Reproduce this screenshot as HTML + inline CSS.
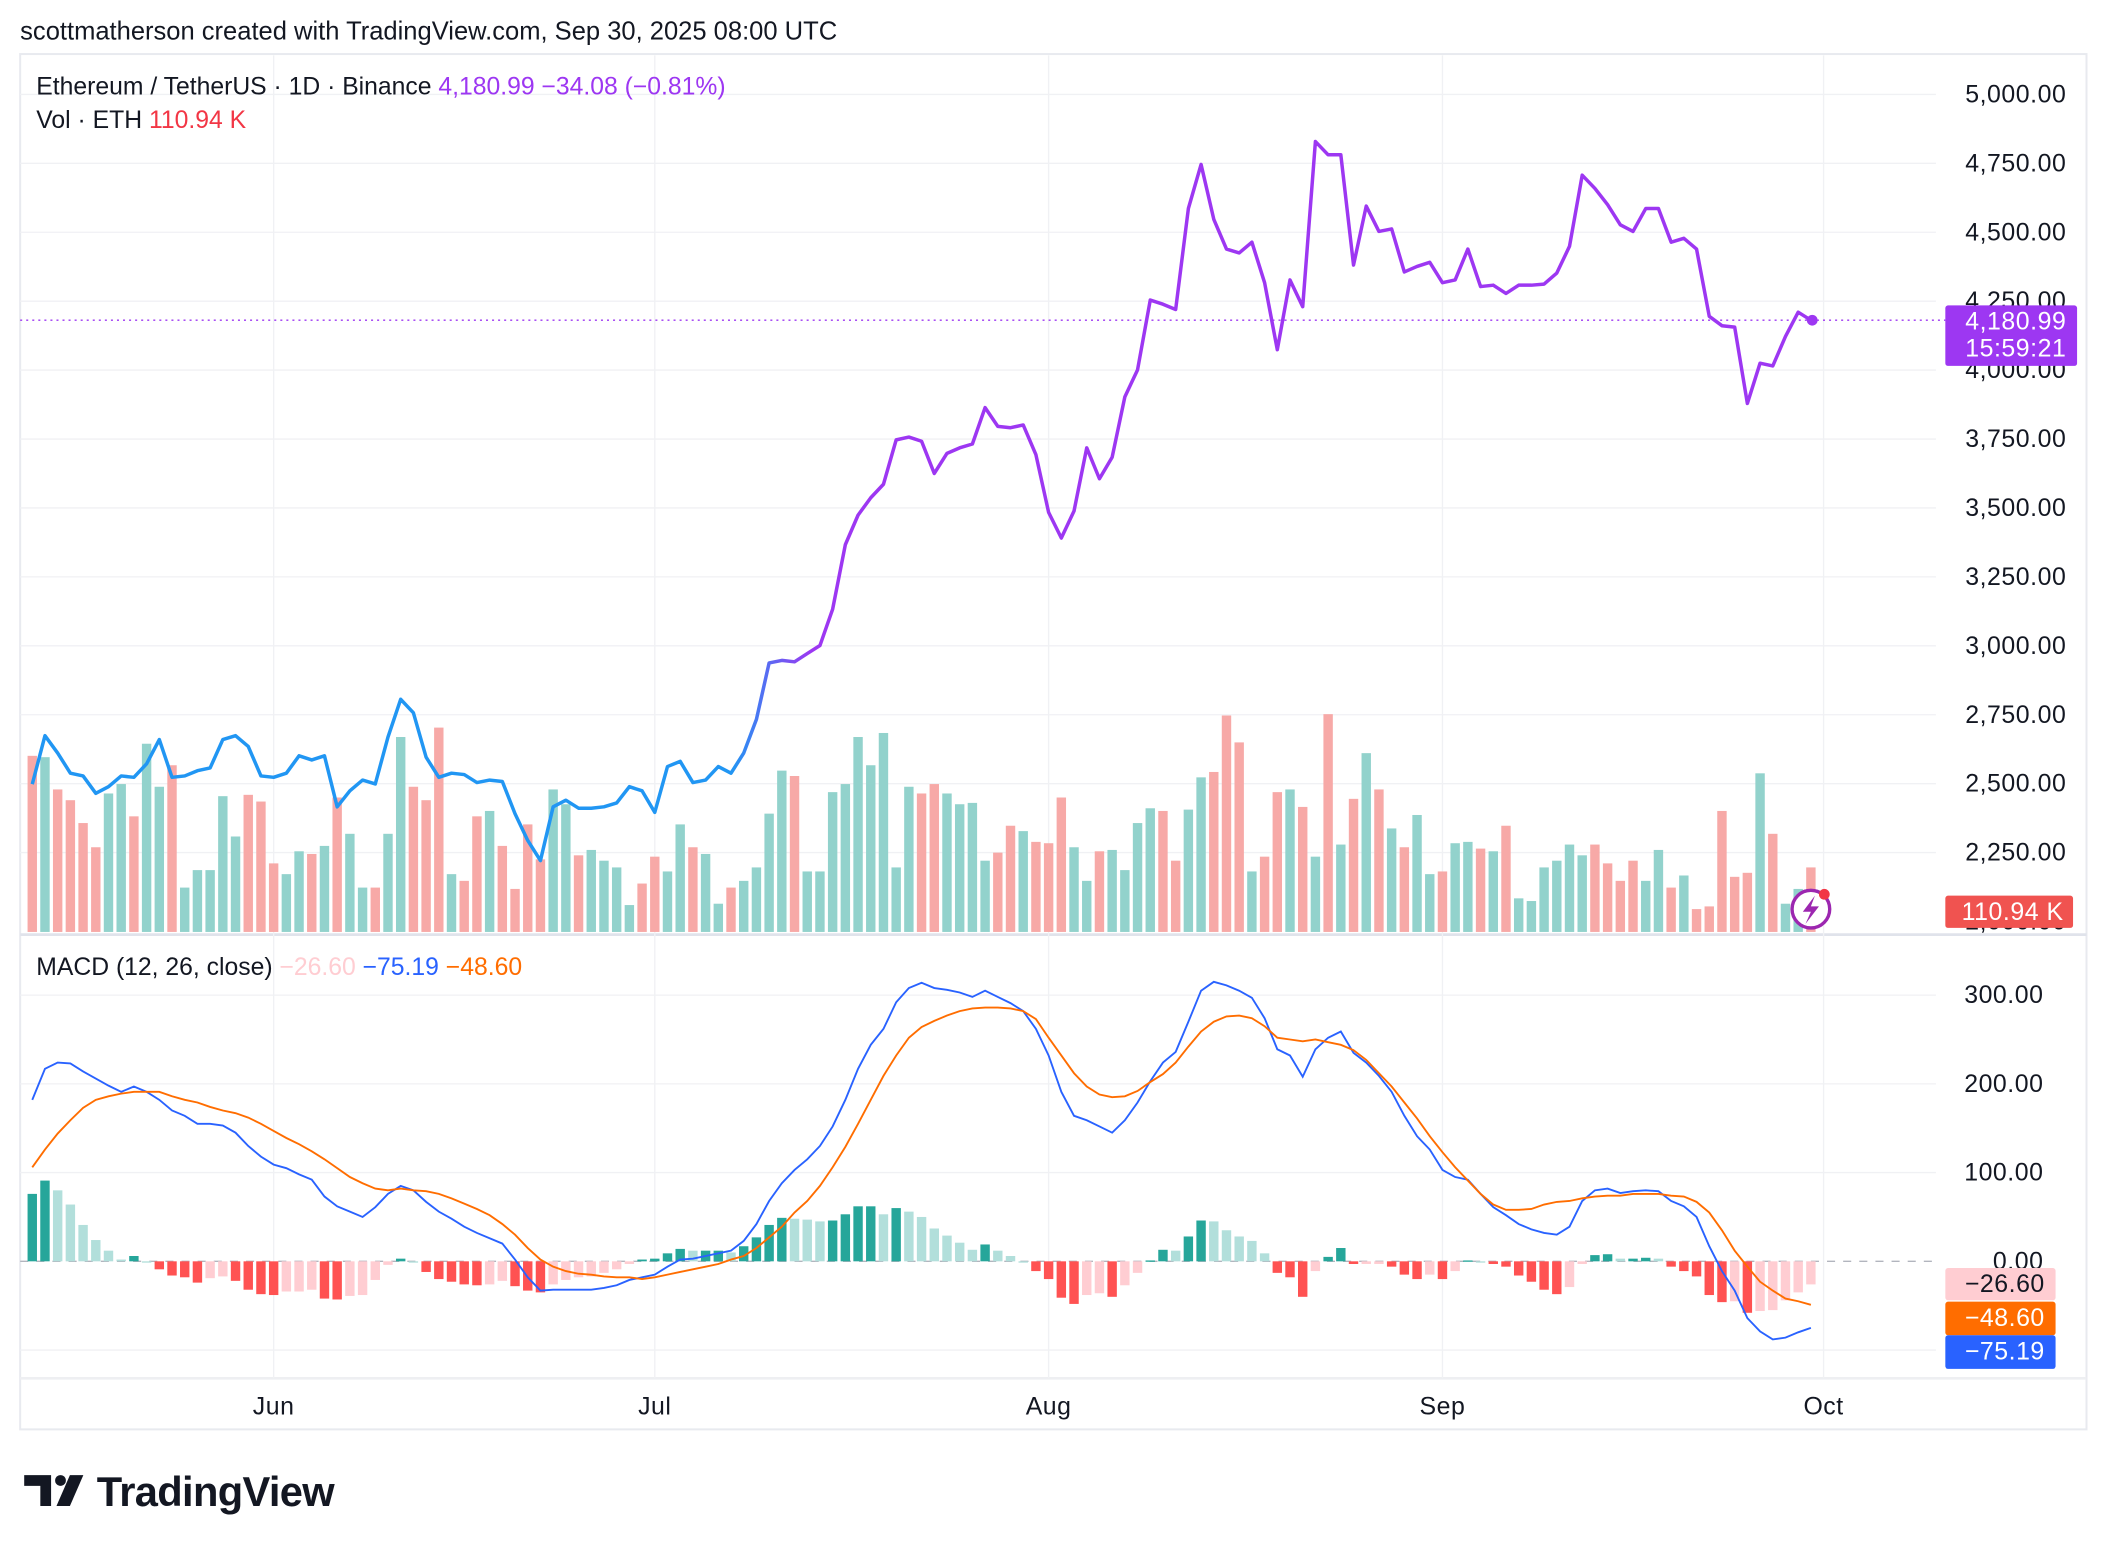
<!DOCTYPE html>
<html><head><meta charset="utf-8">
<style>
html,body{margin:0;padding:0;background:#fff;}
svg{display:block;font-family:"Liberation Sans",Arial,sans-serif;}
</style></head>
<body>
<svg id="chart" width="2108" height="1552" viewBox="0 0 1568 1154" xmlns="http://www.w3.org/2000/svg">
<defs>
<linearGradient id="lineGrad" gradientUnits="userSpaceOnUse" x1="544" y1="0" x2="604" y2="0">
<stop offset="0" stop-color="#2196f3"/><stop offset="1" stop-color="#9d37f2"/>
</linearGradient>
</defs>
<text x="15" y="29" font-size="19" fill="#131722">scottmatherson created with TradingView.com, Sep 30, 2025 08:00 UTC</text>
<rect x="15" y="40" width="1537" height="1023" fill="none" stroke="#e8eaef" stroke-width="1.5"/>
<line x1="15" y1="695" x2="1552" y2="695" stroke="#e0e3eb" stroke-width="2"/>
<line x1="15" y1="1025" x2="1552" y2="1025" stroke="#eeeff2" stroke-width="2"/>
<g id="grid"></g>
<g id="volume"></g>
<g id="price"></g>
<g id="macd"></g>
<g id="axes"></g>
<text x="27" y="70" font-size="18.4" fill="#131722">Ethereum / TetherUS · 1D · Binance <tspan fill="#9d37f2">4,180.99  −34.08 (−0.81%)</tspan></text>
<text x="27" y="95" font-size="18.4" fill="#131722">Vol · ETH <tspan fill="#f23645">110.94 K</tspan></text>
<text x="27" y="725" font-size="18.4" fill="#131722">MACD (12, 26, close) <tspan fill="#ffcdd2">−26.60</tspan> <tspan fill="#2962ff">−75.19</tspan> <tspan fill="#ff6d00">−48.60</tspan></text>
<g>
<circle cx="1347" cy="676" r="14" fill="#fff" stroke="#9c27b0" stroke-width="2.5"/>
<path d="M1350 666 L1341 678 L1347 678 L1343 687 L1353 674 L1347 674 Z" fill="#9c27b0"/>
<circle cx="1357" cy="665" r="4" fill="#f23645"/>
</g>
<g>
<path d="M18 1097 H38 V1120 H30 V1105 H18 Z" fill="#131722"/>
<circle cx="45" cy="1101" r="4" fill="#131722"/>
<path d="M52 1097 H62 L52 1120 H42 Z" fill="#131722"/>
<text x="72" y="1120" font-size="31" font-weight="bold" fill="#131722" letter-spacing="-0.5">TradingView</text>
</g>
</svg>
<script>
const closes=[2498,2674,2611,2538,2528,2465,2489,2528,2523,2572,2660,2523,2528,2547,2557,2660,2674,2635,2528,2523,2538,2601,2586,2601,2416,2474,2513,2499,2669,2806,2757,2596,2523,2538,2533,2504,2513,2508,2391,2294,2221,2416,2440,2411,2411,2416,2430,2489,2474,2396,2562,2581,2504,2513,2562,2538,2611,2733,2938,2947,2942,2972,3001,3133,3367,3474,3537,3586,3747,3757,3742,3625,3698,3718,3732,3864,3796,3791,3801,3693,3484,3391,3489,3718,3606,3684,3903,4001,4254,4239,4220,4586,4746,4547,4439,4425,4464,4317,4074,4327,4230,4829,4781,4781,4381,4595,4503,4512,4356,4376,4391,4317,4327,4439,4303,4308,4278,4308,4308,4312,4352,4449,4707,4659,4600,4527,4503,4586,4586,4464,4478,4439,4195,4161,4156,3879,4025,4015,4122,4210,4181];
const volTops=[562,563,587,595,612,630,590,583,607,553,585,569,660,647,647,592,622,591,596,642,650,633,635,629,593,620,660,660,620,548,585,595,541,650,655,607,603,629,661,613,639,587,598,636,632,640,645,673,657,637,648,613,630,635,672,660,655,645,605,573,577,648,648,589,583,548,569,545,645,585,590,583,590,598,597,640,634,614,618,626,627,593,630,655,633,632,647,612,601,603,640,602,578,574,532,552,648,637,589,587,600,637,531,628,594,560,587,616,630,606,650,648,627,626,631,633,614,668,670,645,640,628,636,628,642,655,640,655,632,660,651,676,674,603,652,649,575,620,672,661,645];
const volumes=volTops.map(t=>(693-t)*10);
const macdLine=[182,217,224,223,214,206,198,191,197,191,182,170,164,155,155,153,145,130,118,109,105,98,92,73,62,56,50,61,76,85,80,67,56,48,39,32,26,20,2,-18,-33,-32,-32,-32,-32,-30,-27,-21,-18,-15,-6,2,3,6,9,12,23,42,68,88,103,115,130,152,182,217,244,262,292,308,314,308,306,303,298,305,298,291,282,262,232,191,164,159,152,145,159,179,203,224,236,270,305,315,311,305,297,274,239,232,208,239,252,259,235,224,209,191,164,141,126,103,95,92,76,61,52,42,36,32,30,39,68,80,82,77,79,80,79,68,62,50,17,-11,-33,-64,-79,-88,-86,-80,-75];
const signalLine=[106,126,144,159,173,182,186,189,191,191,191,186,182,179,174,170,167,162,155,147,139,132,124,115,105,95,88,82,80,82,80,79,76,71,65,59,52,42,30,15,2,-6,-11,-14,-15,-17,-18,-18,-20,-18,-15,-12,-9,-6,-3,2,6,15,27,39,55,68,85,106,129,155,182,209,232,252,264,271,277,282,285,286,286,285,282,273,252,232,212,197,188,185,186,192,202,211,224,242,259,270,276,277,274,265,252,250,248,250,247,244,238,227,212,197,179,161,141,123,106,91,76,64,58,58,59,64,67,68,71,73,74,74,76,76,76,74,73,67,55,35,12,-6,-23,-33,-42,-45,-49];
const priceTicks=[5000,4750,4500,4250,4000,3750,3500,3250,3000,2750,2500,2250];
const macdTicks=[300,200,100,0];
const monthLabels=["Jun","Jul","Aug","Sep","Oct"];
const monthDayIndex=[19,49,80,111,141];

const NS="http://www.w3.org/2000/svg";
function mk(tag,attrs,parent){const e=document.createElementNS(NS,tag);for(const k in attrs)e.setAttribute(k,attrs[k]);parent.appendChild(e);return e;}
const X=i=>24+i*9.45;
const YP=p=>70+(5000-p)/250*51.27;
const YV=v=>693-v/10;
const YM=m=>938-m*0.66;
const grid=document.getElementById('grid'),axes=document.getElementById('axes');
const gVol=document.getElementById('volume'),gPrice=document.getElementById('price'),gMacd=document.getElementById('macd');
const AX={'font-size':18.5,fill:'#131722','letter-spacing':0.4};

monthDayIndex.forEach((d,i)=>{
  const x=X(d);
  const l=mk('line',{x1:x,y1:41,x2:x,y2:1025,stroke:'#f0f1f4','stroke-width':1},grid);
  
  
  const t=mk('text',Object.assign({x:x,y:1052,'text-anchor':'middle'},AX),axes);
  t.textContent=monthLabels[i];
  
  
});
priceTicks.forEach(p=>{
  const y=YP(p);
  const l=mk('line',{x1:15,y1:y,x2:1440,y2:y,stroke:'#f0f1f4','stroke-width':1},grid);
  
  
  const t=mk('text',Object.assign({x:1537,y:y+6,'text-anchor':'end'},AX),axes);
  t.textContent=p.toLocaleString('en-US',{minimumFractionDigits:2});
  
  
});
{const t=mk('text',Object.assign({x:1537,y:YP(2000)+6,'text-anchor':'end'},AX),axes);t.textContent='2,000.00';

}
macdTicks.forEach(m=>{
  const y=YM(m);
  const l=mk('line',{x1:15,y1:y,x2:1440,y2:y,stroke:m===0?'#b2b5be':'#f0f1f4','stroke-width':1,'stroke-dasharray':m===0?'6,6':'none'},grid);
  
  
  const t=mk('text',Object.assign({x:1520,y:y+6,'text-anchor':'end'},AX),axes);
  t.textContent=m.toFixed(2);
  
  
});
{const l=mk('line',{x1:15,y1:YM(-100),x2:1440,y2:YM(-100),stroke:'#f0f1f4'},grid);

}

volumes.forEach((v,i)=>{
  const up=i===0?false:closes[i]>=closes[i-1];
  const r=mk('rect',{x:X(i)-3.5,y:YV(v),width:7,height:693-YV(v),fill:up?'#92d2cc':'#f7a9a7'},gVol);
  
  
});
const pl=mk('polyline',{points:closes.map((c,i)=>X(i)+','+YP(c)).join(' '),fill:'none',stroke:'url(#lineGrad)','stroke-width':2.6,'stroke-linejoin':'round'},gPrice);


const last=closes[closes.length-1];
const dl=mk('line',{x1:15,y1:YP(last),x2:1447,y2:YP(last),stroke:'#9d37f2','stroke-width':1,'stroke-dasharray':'1.5,3'},gPrice);


const dot=mk('circle',{cx:X(closes.length-1)+1,cy:YP(last),r:4,fill:'#9d37f2'},gPrice);



macdLine.forEach((m,i)=>{
  const h=m-signalLine[i];
  const prev=i===0?h:macdLine[i-1]-signalLine[i-1];
  let col;
  if(h>=0)col=h>=prev?'#26a69a':'#b2dfdb';else col=h<prev?'#ff5252':'#ffcdd2';
  const y0=YM(0),y1=YM(h);
  const r=mk('rect',{x:X(i)-3.5,y:Math.min(y0,y1),width:7,height:Math.max(1,Math.abs(y1-y0)),fill:col},gMacd);
  
  
});
const ml=mk('polyline',{points:macdLine.map((m,i)=>X(i)+','+YM(m)).join(' '),fill:'none',stroke:'#2962ff','stroke-width':1.4},gMacd);


const sl=mk('polyline',{points:signalLine.map((m,i)=>X(i)+','+YM(m)).join(' '),fill:'none',stroke:'#ff6d00','stroke-width':1.4},gMacd);



function badge(name,y,h,bg,fg,lines,w,tx){
  const g=mk('g',{},axes);
  
  
  mk('rect',{x:1447,y:y,width:w,height:h,rx:2,fill:bg},g);
  lines.forEach((s,k)=>{const t=mk('text',{x:tx,y:y+18+k*20,'font-size':18.5,'letter-spacing':0.4,'text-anchor':'end',fill:fg},g);t.textContent=s;});
}
badge('last-price-badge',YP(last)-11,45,'#9d37f2','#fff',['4,180.99','15:59:21'],98,1537);
badge('volume-badge',666,24,'#f05350','#fff',['110.94 K'],95,1535);
badge('histogram-badge',943,24,'#ffcdd2','#131722',['−26.60'],82,1521);
badge('signal-badge',968,25,'#ff6d00','#fff',['−48.60'],82,1521);
badge('macd-badge',993,25,'#2962ff','#fff',['−75.19'],82,1521);
</script>
</body></html>
